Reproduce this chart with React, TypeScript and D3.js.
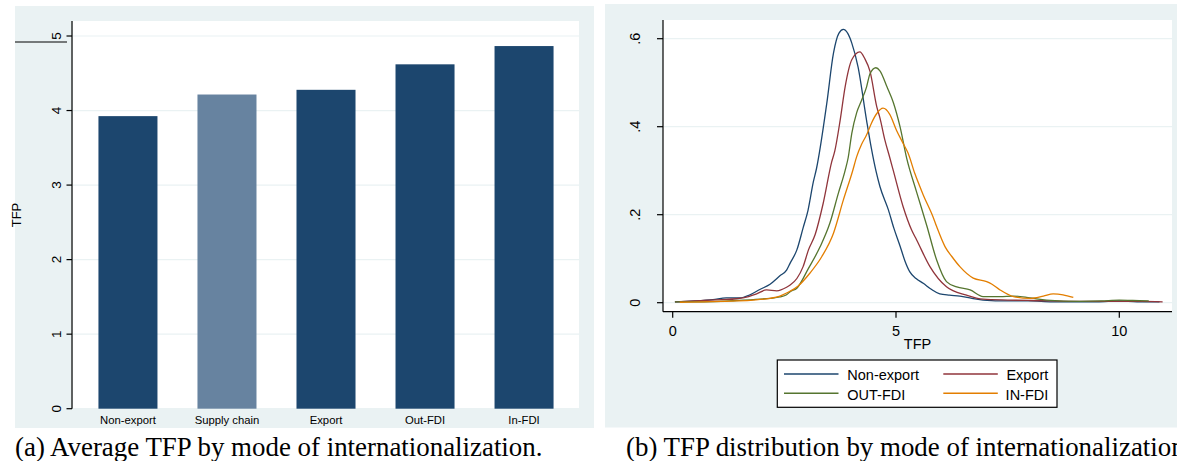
import React from 'react';
import * as d3 from 'd3';

// canvas
const width = 1177;
const height = 461;

// colours (Stata s2color)
const bgColor = '#eaf2f3';
const gridColor = '#eaf2f3';
const navy = '#1c466e';
const navyLight = '#6783a0';
const maroon = '#90353b';
const forest = '#55752f';
const orange = '#e37e00';

// panel (a) data
const modes = ['Non-export', 'Supply chain', 'Export', 'Out-FDI', 'In-FDI'];
const avgTfp = [3.925, 4.215, 4.278, 4.62, 4.865];
const barTicks = [0, 1, 2, 3, 4, 5];

// panel (b) data: kernel density estimates, [TFP, density]
const nonExport = [
  [0.05, 0.002], [0.5, 0.004], [0.9, 0.007], [1.2, 0.011], [1.5, 0.011], [1.73, 0.018],
  [1.95, 0.03], [2.18, 0.042], [2.4, 0.061], [2.55, 0.074], [2.63, 0.09], [2.78, 0.12],
  [2.92, 0.17], [3.03, 0.21], [3.15, 0.275], [3.22, 0.305], [3.45, 0.453], [3.6, 0.567],
  [3.72, 0.612], [3.82, 0.621], [3.92, 0.612], [4.01, 0.59], [4.15, 0.536], [4.34, 0.415],
  [4.45, 0.35], [4.55, 0.30], [4.64, 0.264], [4.83, 0.211], [4.95, 0.17], [5.09, 0.129],
  [5.2, 0.095], [5.31, 0.07], [5.45, 0.055], [5.61, 0.044], [5.8, 0.03], [5.98, 0.02],
  [6.2, 0.017], [6.43, 0.015], [6.7, 0.01], [6.95, 0.006], [7.5, 0.004], [8.0, 0.004],
  [8.5, 0.002], [9.0, 0.002], [9.5, 0.002], [10.0, 0.004], [10.4, 0.002], [10.9, 0.002],
];
const exportFirms = [
  [0.05, 0.002], [0.69, 0.005], [1.1, 0.007], [1.43, 0.009], [1.7, 0.014], [1.88, 0.02],
  [2.1, 0.029], [2.33, 0.027], [2.55, 0.035], [2.63, 0.04], [2.78, 0.055], [2.92, 0.082],
  [3.04, 0.12], [3.19, 0.155], [3.37, 0.226], [3.56, 0.32], [3.63, 0.345], [3.75, 0.415],
  [3.86, 0.49], [4.01, 0.552], [4.19, 0.57], [4.3, 0.555], [4.42, 0.525], [4.57, 0.445],
  [4.64, 0.42], [4.75, 0.37], [4.86, 0.33], [4.94, 0.30], [5.16, 0.218], [5.35, 0.165],
  [5.46, 0.143], [5.76, 0.082], [6.13, 0.036], [6.58, 0.017], [6.95, 0.008], [7.5, 0.006],
  [8.0, 0.005], [8.5, 0.004], [9.0, 0.003], [10.0, 0.003], [10.5, 0.003], [10.97, 0.002],
];
const outFdi = [
  [0.05, 0.002], [0.7, 0.002], [1.43, 0.005], [1.8, 0.007], [2.18, 0.01], [2.4, 0.013],
  [2.55, 0.018], [2.63, 0.025], [2.78, 0.033], [3.04, 0.078], [3.3, 0.127], [3.52, 0.181],
  [3.71, 0.249], [3.86, 0.30], [3.93, 0.33], [4.01, 0.385], [4.12, 0.432], [4.23, 0.46],
  [4.34, 0.49], [4.42, 0.521], [4.55, 0.534], [4.64, 0.527], [4.8, 0.49], [4.94, 0.455],
  [5.09, 0.40], [5.24, 0.328], [5.46, 0.252], [5.69, 0.175], [5.91, 0.097], [6.13, 0.048],
  [6.36, 0.036], [6.66, 0.029], [6.95, 0.014], [7.33, 0.014], [7.63, 0.015], [8.0, 0.011],
  [8.37, 0.006], [9.12, 0.003], [9.6, 0.004], [10.0, 0.006], [10.3, 0.005], [10.66, 0.004],
];
const inFdi = [
  [0.16, 0.001], [0.69, 0.002], [1.43, 0.004], [1.8, 0.006], [2.18, 0.01], [2.4, 0.015],
  [2.55, 0.022], [2.81, 0.038], [3.07, 0.067], [3.34, 0.105], [3.6, 0.158], [3.82, 0.233],
  [4.03, 0.30], [4.12, 0.332], [4.23, 0.36], [4.34, 0.381], [4.45, 0.408], [4.57, 0.43],
  [4.71, 0.442], [4.86, 0.428], [5.01, 0.392], [5.16, 0.362], [5.27, 0.34], [5.42, 0.294],
  [5.61, 0.245], [5.83, 0.195], [5.91, 0.173], [6.1, 0.127], [6.25, 0.105], [6.43, 0.082],
  [6.73, 0.056], [7.03, 0.048], [7.15, 0.042], [7.33, 0.029], [7.63, 0.014], [8.0, 0.01],
  [8.3, 0.015], [8.52, 0.02], [8.74, 0.018], [8.97, 0.012],
];
const densitySeries = [
  { name: 'Non-export', values: nonExport, color: navy },
  { name: 'Export', values: exportFirms, color: maroon },
  { name: 'OUT-FDI', values: outFdi, color: forest },
  { name: 'IN-FDI', values: inFdi, color: orange },
];
const densityTicks = [0, 0.2, 0.4, 0.6];
const densityTickLabels = ['0', '.2', '.4', '.6'];
const tfpTicks = [0, 5, 10];

const sans = '"Liberation Sans", Arial, sans-serif';
const serif = '"Liberation Serif", "Times New Roman", serif';

// panel (a) layout
const aPlot = { left: 73, right: 579, top: 21, bottom: 408.7 };
const aX = d3.scaleBand().domain(modes).range([aPlot.left, aPlot.right]).paddingInner(0.404).paddingOuter(0.257);
const aY = d3.scaleLinear().domain([0, 5]).range([408.7, 36]);

// panel (b) layout
const bPlot = { left: 663, right: 1172, top: 20, bottom: 311.7 };
const bX = d3.scaleLinear().domain([0, 10]).range([672.7, 1119.3]);
const bY = d3.scaleLinear().domain([0, 0.6]).range([302.7, 38.7]);
const densityLine = d3
  .line<number[]>()
  .x((d) => bX(d[0]))
  .y((d) => bY(d[1]))
  .curve(d3.curveMonotoneX);

const BarPanel = () => (
  <g>
    <rect x={15} y={6} width={579} height={422} fill={bgColor} />
    <rect x={aPlot.left} y={aPlot.top} width={aPlot.right - aPlot.left} height={aPlot.bottom - aPlot.top} fill="white" />
    {barTicks.map((t) => (
      <line key={t} x1={aPlot.left} x2={aPlot.right} y1={aY(t)} y2={aY(t)} stroke={gridColor} strokeWidth={1.2} />
    ))}
    {modes.map((m, i) => (
      <rect
        key={m}
        x={aX(m)}
        y={aY(avgTfp[i])}
        width={aX.bandwidth()}
        height={aY(0) - aY(avgTfp[i])}
        fill={m === 'Supply chain' ? navyLight : navy}
      />
    ))}
    <line x1={72} x2={72} y1={aPlot.top} y2={aPlot.bottom} stroke="black" strokeWidth={1.2} />
    {barTicks.map((t) => (
      <g key={t} transform={`translate(0,${aY(t)})`}>
        <line x1={66.5} x2={72} stroke="black" strokeWidth={1.2} />
        <text transform="translate(60.5,0) rotate(-90)" textAnchor="middle" fontFamily={sans} fontSize={13.5}>
          {t}
        </text>
      </g>
    ))}
    <line x1={15} x2={67} y1={42} y2={42} stroke="black" strokeWidth={1} />
    <text transform="translate(20.5,215) rotate(-90)" textAnchor="middle" fontFamily={sans} fontSize={13}>
      TFP
    </text>
    {modes.map((m) => (
      <text key={m} x={aX(m)! + aX.bandwidth() / 2} y={424} textAnchor="middle" fontFamily={sans} fontSize={11.3}>
        {m}
      </text>
    ))}
    <text x={15} y={456} fontFamily={serif} fontSize={26.9}>
      (a) Average TFP by mode of internationalization.
    </text>
  </g>
);

const DensityPanel = () => (
  <g>
    <rect x={605} y={4} width={width - 605} height={423.5} fill={bgColor} />
    <rect x={bPlot.left} y={bPlot.top} width={bPlot.right - bPlot.left} height={bPlot.bottom - bPlot.top} fill="white" />
    {densityTicks.map((t) => (
      <line key={t} x1={bPlot.left} x2={bPlot.right} y1={bY(t)} y2={bY(t)} stroke={gridColor} strokeWidth={1.2} />
    ))}
    {densitySeries.map((s) => (
      <path key={s.name} d={densityLine(s.values) || ''} fill="none" stroke={s.color} strokeWidth={1.3} />
    ))}
    <line x1={bPlot.left} x2={bPlot.left} y1={bPlot.top} y2={bPlot.bottom} stroke="black" strokeWidth={1.2} />
    <line x1={bPlot.left} x2={bPlot.right} y1={bPlot.bottom} y2={bPlot.bottom} stroke="black" strokeWidth={1.2} />
    {densityTicks.map((t, i) => (
      <g key={t} transform={`translate(0,${bY(t)})`}>
        <line x1={657} x2={bPlot.left} stroke="black" strokeWidth={1.2} />
        <text transform="translate(640,0) rotate(-90)" textAnchor="middle" fontFamily={sans} fontSize={14.5}>
          {densityTickLabels[i]}
        </text>
      </g>
    ))}
    {tfpTicks.map((t) => (
      <g key={t} transform={`translate(${bX(t)},0)`}>
        <line y1={bPlot.bottom} y2={bPlot.bottom + 6} stroke="black" strokeWidth={1.2} />
        <text y={336} textAnchor="middle" fontFamily={sans} fontSize={14.5}>
          {t}
        </text>
      </g>
    ))}
    <text x={(bPlot.left + bPlot.right) / 2} y={348.5} textAnchor="middle" fontFamily={sans} fontSize={14.5}>
      TFP
    </text>
    <rect x={777.3} y={360} width={279.7} height={47.3} fill="white" stroke="black" strokeWidth={1.2} />
    {densitySeries.map((s, i) => {
      const col = i % 2;
      const row = Math.floor(i / 2);
      const ly = row === 0 ? 374 : 393.3;
      const x1 = col === 0 ? 784 : 943.3;
      return (
        <g key={s.name}>
          <line x1={x1} x2={x1 + 54.5} y1={ly} y2={ly} stroke={s.color} strokeWidth={1.5} />
          <text
            x={col === 0 ? 847.3 : 1048.3}
            y={ly + 6.3}
            textAnchor={col === 0 ? 'start' : 'end'}
            fontFamily={sans}
            fontSize={14.5}
          >
            {s.name}
          </text>
        </g>
      );
    })}
    <text x={626} y={456} fontFamily={serif} fontSize={26.9}>
      (b) TFP distribution by mode of internationalization.
    </text>
  </g>
);

export default function App() {
  return (
    <div style={{ position: 'absolute', left: 0, top: 0 }}>
      <svg width={width} height={height} style={{ display: 'block', background: 'white' }}>
        <BarPanel />
        <DensityPanel />
      </svg>
    </div>
  );
}
